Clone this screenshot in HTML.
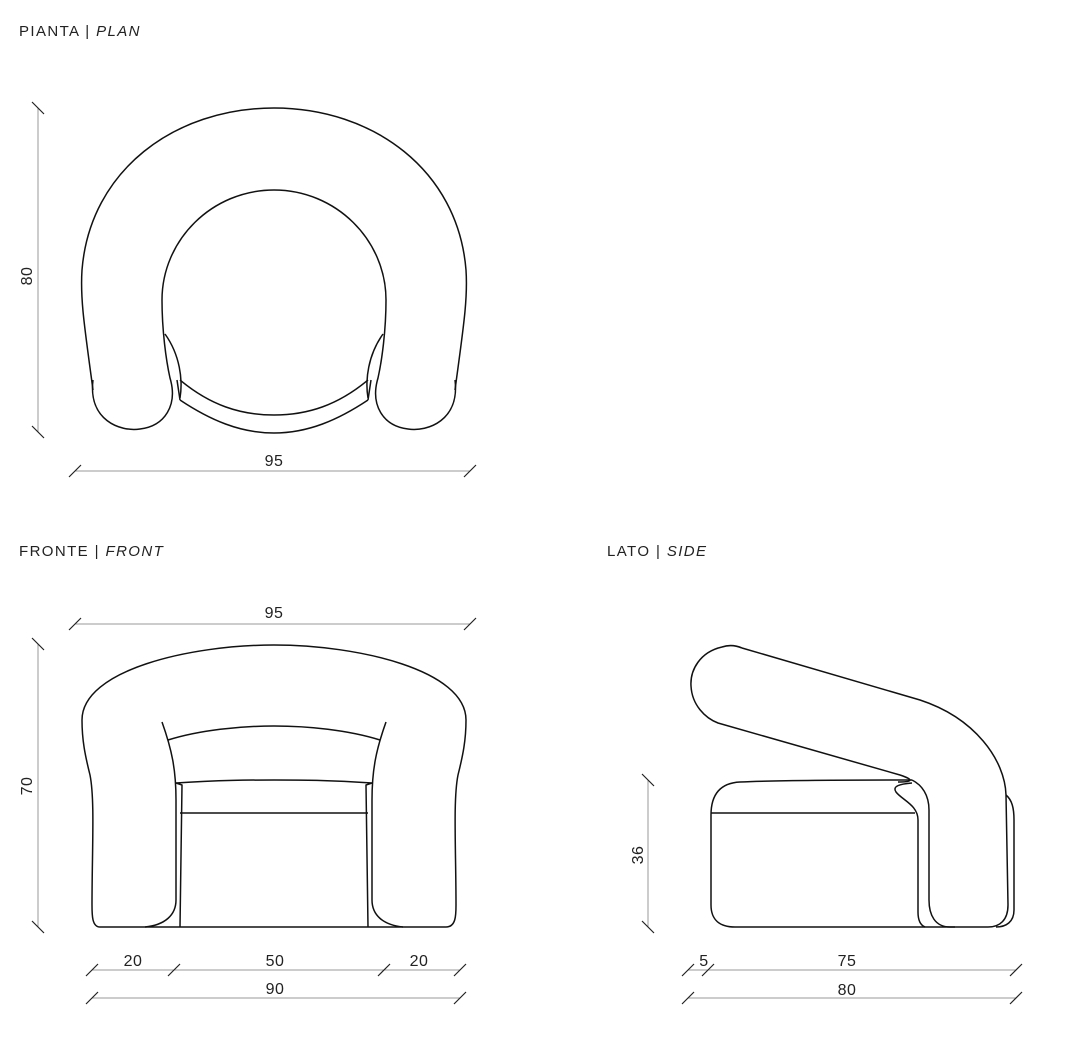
<!DOCTYPE html>
<html><head><style>
body{margin:0;background:#fff;width:1066px;height:1044px;overflow:hidden}
svg{display:block}
text{font-family:"Liberation Sans",sans-serif;fill:#222}
</style></head><body>
<svg width="1066" height="1044" viewBox="0 0 1066 1044" xmlns="http://www.w3.org/2000/svg">
<g font-size="15" letter-spacing="1.4">
<text x="19" y="36">PIANTA | <tspan font-style="italic">PLAN</tspan></text>
<text x="19" y="556">FRONTE | <tspan font-style="italic">FRONT</tspan></text>
<text x="607" y="556">LATO | <tspan font-style="italic">SIDE</tspan></text>
</g>
<g stroke="#999" stroke-width="1" fill="none">
<line x1="38" y1="108" x2="38" y2="432"/>
<line x1="75" y1="471" x2="470" y2="471"/>
<line x1="75" y1="624" x2="470" y2="624"/>
<line x1="38" y1="644" x2="38" y2="927"/>
<line x1="92" y1="970" x2="460" y2="970"/>
<line x1="92" y1="998" x2="460" y2="998"/>
<line x1="648" y1="780" x2="648" y2="927"/>
<line x1="688" y1="970" x2="1016" y2="970"/>
<line x1="688" y1="998" x2="1016" y2="998"/>
</g>
<g stroke="#222" stroke-width="1.2">
<path d="M32 102l12 12M32 426l12 12M69 477l12-12M464 477l12-12M69 630l12-12M464 630l12-12M32 638l12 12M32 921l12 12
M86 976l12-12M168 976l12-12M378 976l12-12M454 976l12-12M86 1004l12-12M454 1004l12-12
M642 774l12 12M642 921l12 12M682 976l12-12M702 976l12-12M1010 976l12-12M682 1004l12-12M1010 1004l12-12"/>
</g>
<g font-size="16" letter-spacing="0.5">
<text x="274" y="466" text-anchor="middle">95</text>
<text x="274" y="618" text-anchor="middle">95</text>
<text x="133" y="966" text-anchor="middle">20</text>
<text x="275" y="966" text-anchor="middle">50</text>
<text x="419" y="966" text-anchor="middle">20</text>
<text x="275" y="994" text-anchor="middle">90</text>
<text x="704" y="966" text-anchor="middle">5</text>
<text x="847" y="966" text-anchor="middle">75</text>
<text x="847" y="995" text-anchor="middle">80</text>
<text transform="translate(32,276) rotate(-90)" text-anchor="middle">80</text>
<text transform="translate(32,786) rotate(-90)" text-anchor="middle">70</text>
<text transform="translate(643,855) rotate(-90)" text-anchor="middle">36</text>
</g>
<g stroke="#111" stroke-width="1.5" fill="none" stroke-linejoin="round">
<path d="M93 390 C85 330 80 300 82 270 C90 170 175 108 274 108 C373 108 458 170 466 270 C468 300 463 330 455 390"/>
<path d="M93 380 C88 420 120 432 140 429 C165 426 178 405 170 378 C166 360 162 330 162 300 C162 240 212 190 274 190 C336 190 386 240 386 300 C386 330 382 360 378 378 C370 405 383 426 408 429 C428 432 460 420 455 380"/>
<path d="M165 334 C180 355 183 380 180 398 M383 334 C368 355 365 380 368 398"/>
<path d="M180 380 C210 405 240 415 274 415 C308 415 338 405 368 380"/>
<path d="M180 400 C210 420 240 433 274 433 C308 433 338 420 368 400"/>
<path d="M177 380 L180 400 M371 380 L368 400"/>
<path d="M180 927 L100 927 C92 927 92 915 92 905 C92 850 95 800 90 775 C85 755 82 740 82 720 C82 670 190 645 274 645 C358 645 466 670 466 720 C466 740 463 755 458 775 C453 800 456 850 456 905 C456 915 456 927 446 927 L368 927"/>
<path d="M180 927 L368 927"/>
<path d="M162 722 C172 750 176 770 176 800 L176 900 C176 915 165 925 145 927"/>
<path d="M386 722 C376 750 372 770 372 800 L372 900 C372 915 383 925 403 927"/>
<path d="M168 740 C200 730 240 726 274 726 C308 726 348 730 380 740"/>
<path d="M176 783 C220 780 250 780 274 780 C300 780 330 780 372 783"/>
<path d="M176 783 L182 785 L180 927 M372 783 L366 785 L368 927"/>
<path d="M180 813 L368 813"/>
<path d="M742 648 L920 700 C975 718 1005 760 1006 795 L1008 905 C1008 920 1000 927 988 927 L950 927 C935 927 929 915 929 900 L929 810 C929 795 922 785 912 780"/>
<path d="M742 648 C735 645 728 645 722 647 C700 652 690 670 691 686 C692 705 705 718 718 723 L900 775 C915 780 912 782 898 782"/>
<path d="M1006 795 C1012 800 1014 808 1014 820 L1014 910 C1014 922 1006 927 996 927"/>
<path d="M912 780 C870 780 780 780 740 782 C720 783 711 795 711 815 L711 905 C711 920 720 927 735 927 L955 927"/>
<path d="M711 813 L915 813"/>
<path d="M912 783 C900 784 892 786 896 792 C902 800 918 805 918 820 L918 912 C918 920 920 925 925 927"/>
</g>
</svg>
</body></html>
